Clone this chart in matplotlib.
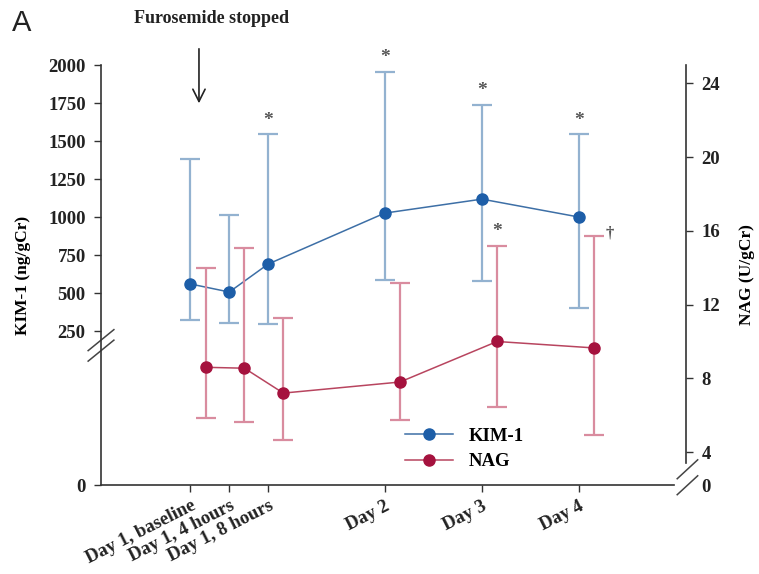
import numpy as np
import matplotlib
matplotlib.use("Agg")
import matplotlib.pyplot as plt
from matplotlib.lines import Line2D

# ---- data ----
timepoints = ["Day 1, baseline", "Day 1, 4 hours", "Day 1, 8 hours", "Day 2", "Day 3", "Day 4"]
x_pos = [0, 1, 2, 5, 7.5, 10]

kim_mean = [560, 507, 691, 1026, 1118, 1000]
kim_upper = [1380, 1013, 1546, 1954, 1737, 1546]
kim_lower = [322, 303, 296, 586, 579, 401]

nag_mean = [8.6, 8.55, 7.2, 7.8, 10.0, 9.65]
nag_upper = [14.0, 15.05, 11.3, 13.2, 15.2, 15.75]
nag_lower = [5.85, 5.65, 4.65, 5.75, 6.45, 4.9]

kim_marks = ["", "", "*", "*", "*", "*"]
nag_marks = ["", "", "", "", "*", "\u2020"]

# ---- style ----
BLUE, BLUE_LINE, BLUE_ERR = "#1d5ea8", "#3d6fa6", "#93b2d0"
RED, RED_LINE, RED_ERR = "#a5123e", "#b8455f", "#d98c9f"
SERIF = "Liberation Serif"
plt.rcParams["font.family"] = SERIF
plt.rcParams["font.weight"] = "bold"

# broken axes: compress everything below the break
KB, K_K = 250, 4.05
NB, N_K = 4, 0.447


def kfwd(v):
    v = np.asarray(v, float)
    return np.where(v >= KB, v, KB - (KB - v) * K_K)


def kinv(u):
    u = np.asarray(u, float)
    return np.where(u >= KB, u, KB - (KB - u) / K_K)


def nfwd(v):
    v = np.asarray(v, float)
    return np.where(v >= NB, v, NB - (NB - v) * N_K)


def ninv(u):
    u = np.asarray(u, float)
    return np.where(u >= NB, u, NB - (NB - u) / N_K)


fig = plt.figure(figsize=(7.59, 5.74), dpi=100)
ax = fig.add_axes([0.1331, 0.155, 0.7707, 0.7317])
ax2 = ax.twinx()

ax.set_yscale("function", functions=(kfwd, kinv))
ax2.set_yscale("function", functions=(nfwd, ninv))
ax.set_ylim(0, 2000)
ax2.set_ylim(0, 25)
ax.set_xlim(-2.3, 12.75)

xk = np.array(x_pos, float)
xn = xk + 0.39

kim_err = [np.array(kim_mean) - np.array(kim_lower), np.array(kim_upper) - np.array(kim_mean)]
nag_err = [np.array(nag_mean) - np.array(nag_lower), np.array(nag_upper) - np.array(nag_mean)]

ax.errorbar(xk, kim_mean, yerr=kim_err, fmt="none", ecolor=BLUE_ERR, elinewidth=1.6,
            capsize=7, capthick=1.6, zorder=2)
ax.plot(xk, kim_mean, color=BLUE_LINE, lw=1.1, zorder=3)
ax.plot(xk, kim_mean, "o", color=BLUE, ms=8, zorder=4)

ax2.errorbar(xn, nag_mean, yerr=nag_err, fmt="none", ecolor=RED_ERR, elinewidth=1.6,
             capsize=7, capthick=1.6, zorder=2)
ax2.plot(xn, nag_mean, color=RED_LINE, lw=1.1, zorder=3)
ax2.plot(xn, nag_mean, "o", color=RED, ms=8, zorder=4)

for x, up, m in zip(xk, kim_upper, kim_marks):
    if m:
        ax.annotate(m, (x, up), xytext=(0, 4), textcoords="offset points", ha="center",
                    va="bottom", fontsize=14, color="#555555", annotation_clip=False)
for x, up, m in zip(xn, nag_upper, nag_marks):
    if m == "*":
        ax2.annotate(m, (x, up), xytext=(0, 4), textcoords="offset points", ha="center",
                     va="bottom", fontsize=14, color="#555555")
    elif m:
        ax2.annotate(m, (x, up), xytext=(8, -4), textcoords="offset points", ha="left",
                     va="bottom", fontsize=12, color="#555555")

# axes styling
for a in (ax, ax2):
    a.spines["top"].set_visible(False)
    for s in a.spines.values():
        s.set_color("#333333")
        s.set_linewidth(1.2)
ax.spines["right"].set_visible(False)
ax2.spines["left"].set_visible(False)
ax2.spines["bottom"].set_visible(False)
ax.spines["bottom"].set_bounds(-2.3, 12.45)
ax2.spines["right"].set_bounds(2.7, 25)

ax.set_yticks([0, 250, 500, 750, 1000, 1250, 1500, 1750, 2000])
ax.set_yticklabels(["0", "250", "500", "750", "1000", "1250", "1500", "1750", "2000"])
ax2.set_yticks([0, 4, 8, 12, 16, 20, 24])
ax2.set_yticklabels(["0", "4", "8", "12", "16", "20", "24"])
ax.yaxis.set_minor_locator(plt.NullLocator())
ax2.yaxis.set_minor_locator(plt.NullLocator())
ax.tick_params(axis="y", length=5, width=1, colors="#333333", labelsize=13.5, pad=6)
ax2.tick_params(axis="y", length=5, width=1, colors="#333333", labelsize=13.5, pad=6)
ax2.yaxis.get_major_ticks()[0].tick2line.set_visible(False)

ax.set_xticks(xk)
ax.set_xticklabels(timepoints, rotation=27, ha="right", rotation_mode="anchor")
ax.tick_params(axis="x", length=5, width=1, colors="#333333", labelsize=13.5, pad=4)
for lab in ax.get_xticklabels() + ax.get_yticklabels() + ax2.get_yticklabels():
    lab.set_color("#222222")
    lab.set_fontweight("bold")

ax.set_ylabel("KIM-1 (ng/gCr)", fontsize=12.5, fontweight="bold", labelpad=12)
ax2.set_ylabel("NAG (U/gCr)", fontsize=12.5, fontweight="bold", labelpad=14)

# break marks
kw = dict(color="#444444", lw=1.1, clip_on=False)
for dy in (0.0, 0.025):
    ax.plot([-0.022, 0.022], [0.32 - dy, 0.37 - dy], transform=ax.transAxes, **kw)
for dy in (0.0, 0.038):
    ax.plot([0.985, 1.02], [0.015 - dy, 0.06 - dy], transform=ax.transAxes, **kw)

# legend
handles = [Line2D([], [], color=BLUE_LINE, marker="o", mfc=BLUE, mec=BLUE, ms=8, lw=1.1),
           Line2D([], [], color=RED_LINE, marker="o", mfc=RED, mec=RED, ms=8, lw=1.1)]
ax2.legend(handles, ["KIM-1", "NAG"], loc="lower left", bbox_to_anchor=(0.49, -0.005),
           frameon=False, handlelength=2.6, handletextpad=0.8, labelspacing=0.45,
           prop={"family": SERIF, "weight": "bold", "size": 13.5})

# arrow and annotation
ax.annotate("", xy=(0.22, 1730), xytext=(0.22, 2125), annotation_clip=False,
            arrowprops=dict(arrowstyle="->", color="#222222", lw=1.2, mutation_scale=22))
fig.text(0.2787, 0.9686, "Furosemide stopped", ha="center", va="center", fontsize=13,
         fontweight="bold", color="#222222")
fig.text(0.016, 0.96, "A", ha="left", va="center", fontsize=21, fontweight="normal",
         family="Liberation Sans", color="#222222")

fig.savefig("out.png", dpi=100)
